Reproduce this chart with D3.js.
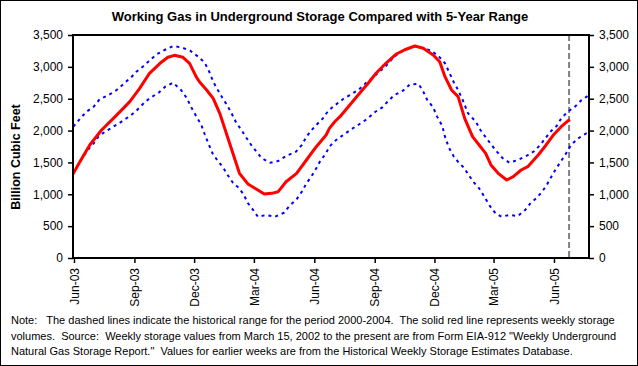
<!DOCTYPE html>
<html><head><meta charset="utf-8">
<script src="https://cdn.jsdelivr.net/npm/d3@7"></script>
<style>
html,body{margin:0;padding:0;background:#fff;}
svg{display:block;font-family:"Liberation Sans",Arial,sans-serif;}
text{white-space:pre;}
</style></head>
<body>
<svg id="chart" width="638" height="366"></svg>
<script>
const title = "Working Gas in Underground Storage Compared with 5-Year Range";
const yLabel = "Billion Cubic Feet";
const noteLines = [
  "Note:   The dashed lines indicate the historical range for the period 2000-2004.  The solid red line represents weekly storage",
  "volumes.  Source:  Weekly storage values from March 15, 2002 to the present are from Form EIA-912 \"Weekly Underground",
  "Natural Gas Storage Report.\"  Values for earlier weeks are from the Historical Weekly Storage Estimates Database."
];
const yTicks = [0, 500, 1000, 1500, 2000, 2500, 3000, 3500];
const xTickDates = ["2003-06-01","2003-09-01","2003-12-01","2004-03-01","2004-06-01","2004-09-01","2004-12-01","2005-03-01","2005-06-01"];
const xTickLabels = ["Jun-03","Sep-03","Dec-03","Mar-04","Jun-04","Sep-04","Dec-04","Mar-05","Jun-05"];
const xDomain = ["2003-05-30T12:00","2005-07-24T08:00"];
const reportDate = "2005-06-24";

// Weekly working gas (Bcf), solid red
const storageDates = ["2003-05-30","2003-06-10","2003-06-25","2003-07-13","2003-07-31","2003-08-15","2003-08-25","2003-09-09","2003-09-24","2003-10-10","2003-10-22","2003-11-01","2003-11-14","2003-11-24","2003-12-04","2003-12-09","2003-12-20","2003-12-30","2004-01-09","2004-01-19","2004-01-29","2004-02-08","2004-02-21","2004-03-05","2004-03-17","2004-03-28","2004-04-07","2004-04-19","2004-05-05","2004-05-20","2004-06-04","2004-06-19","2004-06-24","2004-07-02","2004-07-10","2004-07-25","2004-08-09","2004-08-22","2004-09-03","2004-09-18","2004-10-04","2004-10-16","2004-11-01","2004-11-14","2004-11-29","2004-12-09","2004-12-17","2004-12-27","2005-01-06","2005-01-16","2005-01-28","2005-02-07","2005-02-17","2005-02-25","2005-03-08","2005-03-21","2005-03-31","2005-04-12","2005-04-22","2005-05-08","2005-05-20","2005-05-31","2005-06-12","2005-06-25"];
const storageValues = [1310,1511,1774,2009,2192,2349,2454,2663,2899,3056,3150,3181,3150,3056,2846,2767,2637,2506,2271,1957,1643,1329,1161,1078,1004,1015,1041,1197,1329,1538,1747,1930,2035,2139,2218,2401,2585,2742,2899,3056,3202,3265,3327,3291,3186,3081,2846,2637,2532,2192,1904,1774,1643,1460,1329,1224,1276,1381,1433,1617,1774,1930,2061,2177];

// 5-year maximum (dashed blue)
const maxDates = ["2003-05-31","2003-06-12","2003-06-20","2003-07-01","2003-07-10","2003-07-23","2003-08-05","2003-08-15","2003-08-28","2003-09-04","2003-09-15","2003-09-25","2003-10-05","2003-10-17","2003-10-30","2003-11-13","2003-11-25","2003-12-07","2003-12-17","2003-12-24","2003-12-30","2004-01-06","2004-01-13","2004-01-20","2004-01-27","2004-02-03","2004-02-11","2004-02-19","2004-02-27","2004-03-05","2004-03-13","2004-03-26","2004-04-07","2004-04-19","2004-05-04","2004-05-13","2004-05-20","2004-05-28","2004-06-04","2004-06-14","2004-06-22","2004-07-01","2004-07-15","2004-07-25","2004-08-07","2004-08-19","2004-08-29","2004-09-08","2004-09-17","2004-09-26","2004-10-07","2004-10-19","2004-11-01","2004-11-14","2004-11-26","2004-12-08","2004-12-17","2004-12-23","2004-12-30","2005-01-06","2005-01-13","2005-01-21","2005-02-02","2005-02-09","2005-02-17","2005-02-26","2005-03-06","2005-03-15","2005-03-25","2005-04-07","2005-04-20","2005-05-03","2005-05-13","2005-05-20","2005-05-28","2005-06-05","2005-06-12","2005-06-22","2005-07-03","2005-07-13","2005-07-23"];
const maxValues = [2061,2208,2296,2375,2490,2553,2637,2726,2846,2924,3013,3108,3197,3265,3327,3301,3254,3160,3066,2924,2767,2637,2516,2401,2271,2124,2009,1879,1758,1669,1565,1496,1522,1601,1669,1774,1904,2009,2087,2192,2307,2386,2496,2558,2637,2751,2830,2924,3003,3108,3213,3275,3327,3291,3254,3160,3056,2924,2767,2637,2480,2271,2139,2009,1894,1774,1669,1565,1496,1538,1601,1684,1800,1894,1998,2072,2192,2296,2375,2480,2547];

// 5-year minimum (dashed blue)
const minDates = ["2003-05-31","2003-06-07","2003-06-15","2003-06-22","2003-07-01","2003-07-09","2003-07-20","2003-07-31","2003-08-14","2003-08-27","2003-09-04","2003-09-14","2003-09-24","2003-10-08","2003-10-18","2003-10-30","2003-11-11","2003-11-20","2003-11-26","2003-12-04","2003-12-12","2003-12-17","2003-12-23","2003-12-29","2004-01-05","2004-01-14","2004-01-21","2004-01-29","2004-02-06","2004-02-14","2004-02-21","2004-02-29","2004-03-07","2004-03-20","2004-04-02","2004-04-16","2004-04-24","2004-05-05","2004-05-13","2004-05-20","2004-05-28","2004-06-04","2004-06-10","2004-06-18","2004-06-24","2004-07-02","2004-07-15","2004-07-28","2004-08-09","2004-08-21","2004-09-02","2004-09-12","2004-09-22","2004-10-01","2004-10-14","2004-10-25","2004-11-07","2004-11-14","2004-11-20","2004-11-29","2004-12-05","2004-12-13","2004-12-17","2004-12-23","2004-12-30","2005-01-07","2005-01-15","2005-01-22","2005-01-30","2005-02-07","2005-02-15","2005-02-23","2005-03-04","2005-03-13","2005-03-25","2005-04-07","2005-04-18","2005-04-27","2005-05-06","2005-05-14","2005-05-21","2005-05-28","2005-06-05","2005-06-12","2005-06-20","2005-06-27","2005-07-08","2005-07-20","2005-07-23"];
const minValues = [1329,1460,1590,1695,1800,1915,1993,2061,2150,2244,2312,2417,2506,2595,2689,2751,2637,2506,2375,2229,2087,1946,1789,1643,1538,1423,1303,1182,1109,1004,858,753,648,675,648,711,816,921,1041,1172,1287,1408,1522,1632,1747,1836,1930,2025,2103,2186,2296,2359,2469,2558,2626,2726,2731,2610,2480,2365,2218,2072,1904,1731,1601,1496,1417,1303,1188,1094,962,821,701,648,675,659,753,868,946,1041,1146,1276,1417,1522,1653,1774,1879,1957,1967];

const svg = d3.select("#chart");
const W = 638, H = 366;
const plot = {left: 73, right: 589, top: 35, bottom: 258};

svg.append("rect").attr("x",0.5).attr("y",0.5).attr("width",W-1).attr("height",H-1)
  .attr("fill","#fff").attr("stroke","#000").attr("stroke-width",1);

const parse = s => new Date(s.length > 10 ? s : s + "T00:00");
const x = d3.scaleTime().domain(xDomain.map(parse)).range([plot.left, plot.right]);
const y = d3.scaleLinear().domain([0, 3500]).range([plot.bottom, plot.top]);

const zip = (ds, vs) => ds.map((d,i) => ({date: parse(d), value: vs[i]}));
const line = d3.line().x(d => x(d.date)).y(d => y(d.value));

const clipId = "plotclip";
svg.append("clipPath").attr("id", clipId).append("rect")
  .attr("x", plot.left).attr("y", plot.top).attr("width", plot.right-plot.left).attr("height", plot.bottom-plot.top);

const g = svg.append("g").attr("clip-path", `url(#${clipId})`);

// grey dashed report line
g.append("line").attr("x1", x(parse(reportDate))).attr("x2", x(parse(reportDate)))
  .attr("y1", plot.top).attr("y2", plot.bottom)
  .attr("stroke","#808080").attr("stroke-width",2).attr("stroke-dasharray","6,3");

[zip(maxDates,maxValues), zip(minDates,minValues)].forEach(s => {
  g.append("path").datum(s).attr("d", line).attr("fill","none")
    .attr("stroke","#0000ff").attr("stroke-width",2).attr("stroke-dasharray","3,4");
});
g.append("path").datum(zip(storageDates,storageValues)).attr("d", line).attr("fill","none")
  .attr("stroke","#ff0000").attr("stroke-width",3).attr("stroke-linejoin","round");

// frame
svg.append("rect").attr("x",plot.left).attr("y",plot.top)
  .attr("width",plot.right-plot.left).attr("height",plot.bottom-plot.top)
  .attr("fill","none").attr("stroke","#000").attr("stroke-width",2);

const fmt = d3.format(",");
const yl = svg.append("g").attr("transform",`translate(${plot.left},0)`)
  .call(d3.axisLeft(y).tickValues(yTicks).tickFormat(fmt).tickSize(5).tickPadding(5));
const yr = svg.append("g").attr("transform",`translate(${plot.right},0)`)
  .call(d3.axisRight(y).tickValues(yTicks).tickFormat(fmt).tickSize(5).tickPadding(5));
const xa = svg.append("g").attr("transform",`translate(0,${plot.bottom})`)
  .call(d3.axisBottom(x).tickValues(xTickDates.map(parse)).tickFormat((d,i)=>xTickLabels[i]).tickSize(5));
[yl,yr,xa].forEach(a => {
  a.select(".domain").remove();
  a.selectAll("line").attr("stroke","#000").attr("stroke-width",1.5);
  a.selectAll("text").attr("font-size",12).attr("fill","#000").attr("font-family","Liberation Sans, Arial, sans-serif");
});
xa.selectAll("text").attr("transform","rotate(-90)").attr("text-anchor","end")
  .attr("x",-10).attr("y",0).attr("dy","0.35em");

svg.append("text").attr("x",320).attr("y",21).attr("text-anchor","middle")
  .attr("font-size",13).attr("font-weight","bold").text(title);

svg.append("text").attr("transform","translate(20,157) rotate(-90)").attr("text-anchor","middle")
  .attr("font-size",12.5).attr("font-weight","bold").text(yLabel);

svg.append("g").selectAll("text").data(noteLines).join("text")
  .attr("x",11).attr("y",(d,i)=>324+i*15.5).attr("font-size",11).text(d=>d);
</script>
</body></html>
